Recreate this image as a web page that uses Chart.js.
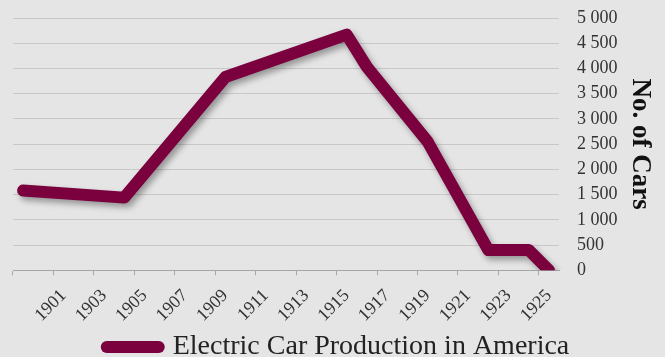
<!DOCTYPE html>
<html>
<head>
<meta charset="utf-8">
<script src="https://cdn.jsdelivr.net/npm/chart.js@4/dist/chart.umd.min.js"></script>
<style>
  html, body { margin: 0; padding: 0; background: #e5e5e5; }
  #wrap { width: 665px; height: 357px; position: relative; }
</style>
</head>
<body>
<div id="wrap"><canvas id="carsChart"></canvas></div>
<script>
// Years on the axis and the production figures
const axisYears = [1899, 1900, 1901, 1902, 1903, 1904, 1905, 1906, 1907, 1908, 1909, 1910, 1911, 1912,
                   1913, 1914, 1915, 1916, 1917, 1918, 1919, 1920, 1921, 1922, 1923, 1924, 1925];
const pointYears = [1899, 1904, 1909, 1915, 1916, 1919, 1922, 1924, 1925];
const carsMade = [1580, 1440, 3830, 4670, 4030, 2550, 400, 400, 0];
const yTicks = [0, 500, 1000, 1500, 2000, 2500, 3000, 3500, 4000, 4500, 5000];

const seriesName = 'Electric Car Production in America';
const lineColor = '#7a003e';
const serif = "'Liberation Serif', 'Times New Roman', serif";

// spread the points over the yearly axis, gaps are spanned
const values = axisYears.map(y => {
    const i = pointYears.indexOf(y);
    return i >= 0 ? carsMade[i] : null;
});

const shadowPlugin = {
    id: 'lineShadow',
    beforeDatasetsDraw(chart) {
        const c = chart.ctx;
        c.save();
        c.shadowColor = 'rgba(0, 0, 0, 0.35)';
        c.shadowBlur = 6;
        c.shadowOffsetX = 3;
        c.shadowOffsetY = 4;
    },
    afterDatasetsDraw(chart) {
        chart.ctx.restore();
    }
};

const ctx = document.getElementById('carsChart').getContext('2d');
new Chart(ctx, {
    type: 'line',
    data: {
        labels: axisYears.map(String),
        datasets: [{
            label: seriesName,
            data: values,
            borderColor: lineColor,
            backgroundColor: lineColor,
            borderWidth: 12,
            borderCapStyle: 'round',
            borderJoinStyle: 'round',
            pointRadius: 0,
            pointHoverRadius: 0,
            pointStyle: 'line',
            spanGaps: true,
            tension: 0
        }]
    },
    options: {
        responsive: true,
        maintainAspectRatio: false,
        animation: false,
        layout: { padding: { left: 13, right: 2, top: 18, bottom: -14 } },
        scales: {
            x: {
                offset: true,
                afterFit: axis => { axis.height -= 5; },
                grid: {
                    offset: true,
                    drawOnChartArea: false,
                    drawTicks: true,
                    tickLength: 5,
                    tickColor: c => (c.index !== undefined && c.index % 2 === 0) ? '#a6a6a6' : 'rgba(0,0,0,0)',
                    lineWidth: 1
                },
                border: { display: true, color: '#a6a6a6', width: 1 },
                ticks: {
                    autoSkip: false,
                    minRotation: 45,
                    maxRotation: 45,
                    padding: 10,
                    color: '#333333',
                    font: { family: serif, size: 18 },
                    callback: function (value) {
                        const y = axisYears[value];
                        return (y % 2 === 1 && y > axisYears[0]) ? String(y) : '';
                    }
                }
            },
            y: {
                position: 'right',
                min: 0,
                max: 5000,
                afterBuildTicks: axis => { axis.ticks = yTicks.map(v => ({ value: v })); },
                grid: {
                    color: '#c8c8c8',
                    lineWidth: 1,
                    drawTicks: true,
                    tickLength: 18,
                    tickColor: 'rgba(0,0,0,0)'
                },
                border: { display: false },
                ticks: {
                    autoSkip: false,
                    padding: 0,
                    color: '#333333',
                    font: { family: serif, size: 18 },
                    callback: v => String(v).replace(/\B(?=(\d{3})+(?!\d))/g, ' ')
                },
                title: {
                    display: true,
                    text: 'No. of Cars',
                    color: '#111111',
                    font: { family: serif, size: 27, weight: 'bold' },
                    padding: { top: 7, bottom: 6 }
                }
            }
        },
        plugins: {
            legend: {
                position: 'bottom',
                labels: {
                    usePointStyle: true,
                    pointStyleWidth: 52,
                    color: '#222222',
                    font: { family: serif, size: 28 },
                    padding: 2,
                    generateLabels: chart => Chart.defaults.plugins.legend.labels.generateLabels(chart)
                        .map(item => Object.assign(item, { lineCap: 'round', lineWidth: 12 }))
                }
            },
            tooltip: { enabled: false }
        }
    },
    plugins: [shadowPlugin]
});
</script>
</body>
</html>
